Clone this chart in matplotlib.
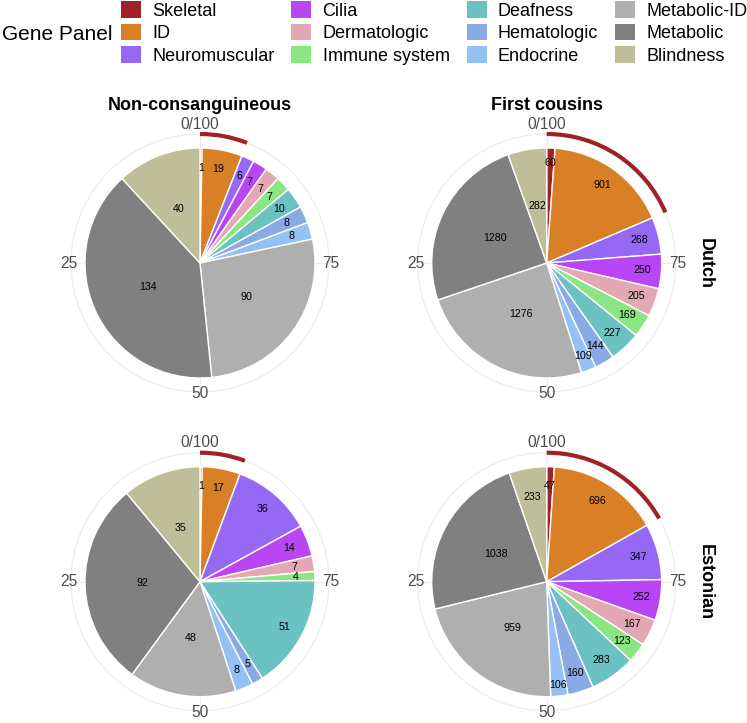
import numpy as np
import matplotlib.pyplot as plt
from matplotlib.patches import Patch, Arc, Circle

plt.rcParams['font.family'] = ['Liberation Sans', 'DejaVu Sans']

# %%
# Data: counts per gene panel, in the order the slices go clockwise from the top
panels = ['Skeletal', 'ID', 'Neuromuscular', 'Cilia', 'Dermatologic',
          'Immune system', 'Deafness', 'Hematologic', 'Endocrine',
          'Metabolic-ID', 'Metabolic', 'Blindness']
panel_colors = ['#A02226', '#D97F26', '#9669F5', '#B946F5', '#E4A8B4',
                '#8AE682', '#6CC1C3', '#89AAE4', '#94C0F2',
                '#AFAFAF', '#808080', '#BEBE98']

dutch_noncons = [1, 19, 6, 7, 7, 7, 10, 8, 8, 90, 134, 40]
dutch_cousins = [60, 901, 268, 250, 205, 169, 227, 144, 109, 1276, 1280, 282]
estonian_noncons = [1, 17, 36, 14, 7, 4, 51, 5, 8, 48, 92, 35]
estonian_cousins = [47, 696, 347, 252, 167, 123, 283, 160, 106, 959, 1038, 233]

col_titles = ['Non-consanguineous', 'First cousins']
row_titles = ['Dutch', 'Estonian']
theta_breaks = [0, 25, 50, 75]
theta_labels = ['0/100', '25', '50', '75']

# panels marked by the red arc
highlight = ['Skeletal', 'ID']
# labels drawn closer to the centre
inner_labels = ['Metabolic-ID', 'Metabolic', 'Blindness']
# a few labels nudged in/out (row, col, panel): radius fraction
label_nudge = {(1, 1, 'Blindness'): 0.75, (0, 1, 'Endocrine'): 0.87,
               (0, 1, 'Skeletal'): 0.87, (1, 1, 'Endocrine'): 0.9}

# %%
W, H = 747, 723
fig = plt.figure(figsize=(W / 100, H / 100), dpi=100)

grid = [[dutch_noncons, dutch_cousins], [estonian_noncons, estonian_cousins]]
cx_list = [200, 546.7]
cy_list = [263, 581.7]
R = 115      # pie radius (px)
RG = 129     # outer grid circle
half = 150
grid_col = '#EBEBEB'

for i in range(2):
    for j in range(2):
        counts = np.array(grid[i][j])
        cx, cy = cx_list[j], cy_list[i]
        ax = fig.add_axes([(cx - half) / W, (H - cy - half) / H,
                           2 * half / W, 2 * half / H])

        # polar grid (theta axis runs anticlockwise)
        ax.add_patch(Circle((0, 0), RG, fill=False, ec=grid_col, lw=0.8,
                            zorder=0))
        for b in theta_breaks:
            a = -np.deg2rad(b / 100 * 360)
            ax.plot([0, RG * np.sin(a)], [0, RG * np.cos(a)], color=grid_col,
                    lw=0.8, zorder=0)

        ax.pie(counts, colors=panel_colors, startangle=90, counterclock=False,
               radius=R, wedgeprops=dict(edgecolor='white', linewidth=1.0))

        # slice labels
        frac = counts / counts.sum()
        mid = np.cumsum(frac) - frac / 2
        for name, n, m in zip(panels, counts, mid):
            rr = 0.5 if name in inner_labels else 0.83
            rr = label_nudge.get((i, j, name), rr)
            a = 2 * np.pi * m
            ax.text(rr * R * np.sin(a), rr * R * np.cos(a), str(n),
                    ha='center', va='center', fontsize=7.7, color='black')

        # red arc over the highlighted panels
        hfrac = sum(c for p, c in zip(panels, counts) if p in highlight) / counts.sum()
        ax.add_patch(Arc((0, 0), 2 * RG, 2 * RG, theta1=90 - hfrac * 360,
                         theta2=90, color=panel_colors[0], lw=3.0, zorder=3,
                         capstyle='butt'))

        # theta axis labels
        for b, lab in zip(theta_breaks, theta_labels):
            a = -np.deg2rad(b / 100 * 360)
            rl = 139 if b == 0 else 131
            ax.text(rl * np.sin(a), rl * np.cos(a), lab, ha='center',
                    va='center', fontsize=11.2, color='#4D4D4D')

        ax.set_xlim(-half, half)
        ax.set_ylim(-half, half)
        ax.set_aspect('equal')
        ax.axis('off')

# facet strips
for j, t in enumerate(col_titles):
    fig.text(cx_list[j] / W, 1 - 105 / H, t, ha='center', va='center',
             fontsize=13, fontweight='bold')
for i, t in enumerate(row_titles):
    fig.text(705.5 / W, 1 - cy_list[i] / H, t, ha='center', va='center',
             fontsize=13, fontweight='bold', rotation=-90)

# legend
handles = [Patch(facecolor=c, edgecolor='none') for c in panel_colors]
fig.legend(handles, panels, ncol=4, loc='upper left',
           bbox_to_anchor=(121 / W, 1 - 1 / H), frameon=False, fontsize=13,
           handlelength=1.1, handleheight=1.05, handletextpad=0.62,
           labelspacing=0.22, columnspacing=0.95, borderpad=0,
           borderaxespad=0)
fig.text(2 / W, 1 - 34 / H, 'Gene Panel', ha='left', va='center', fontsize=15)

fig.savefig('out.png', dpi=100)
